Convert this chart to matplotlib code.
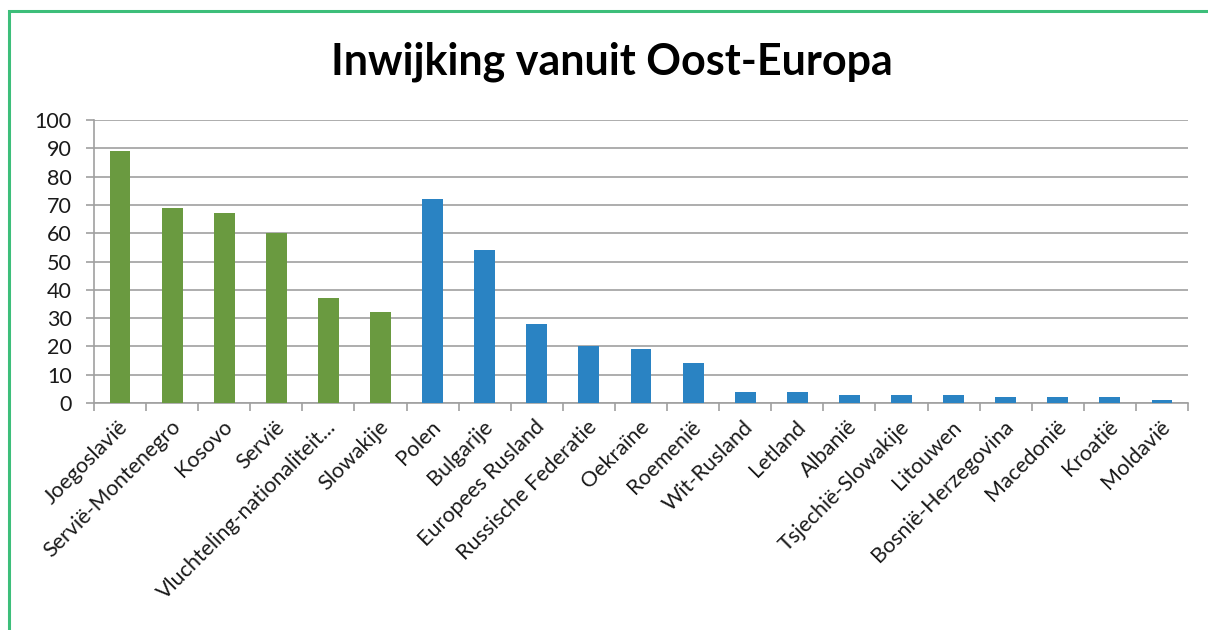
import matplotlib
matplotlib.use("Agg")
import matplotlib.pyplot as plt
import matplotlib.transforms as mtransforms
from matplotlib.patches import Rectangle
import numpy as np

categories = ["Joegoslavië", "Servië-Montenegro", "Kosovo", "Servië",
              "Vluchteling-nationaliteit...", "Slowakije", "Polen", "Bulgarije",
              "Europees Rusland", "Russische Federatie", "Oekraïne", "Roemenië",
              "Wit-Rusland", "Letland", "Albanië", "Tsjechië-Slowakije", "Litouwen",
              "Bosnië-Herzegovina", "Macedonië", "Kroatië", "Moldavië"]
values = [89, 69, 67, 60, 37, 32, 72, 54, 28, 20, 19, 14, 4, 4, 3, 3, 3, 2, 2, 2, 1]
groups = ["g"] * 6 + ["b"] * 15
yticks = [0, 10, 20, 30, 40, 50, 60, 70, 80, 90, 100]
title = "Inwijking vanuit Oost-Europa"

GREEN = "#6A9A40"
BLUE = "#2A83C3"
GRID = "#A0A0A0"
FONT = ["Lato", "DejaVu Sans"]

fig = plt.figure(figsize=(12.08, 6.3), dpi=100)
fig.patch.set_facecolor("white")
ax = fig.add_axes([94/1208, (630-403)/630, (1188-94)/1208, (403-120)/630])

x = np.arange(len(categories))
colors = [GREEN if g == "g" else BLUE for g in groups]
ax.bar(x, values, width=0.4, color=colors, zorder=3)

ax.set_xlim(-0.5, len(categories) - 0.5)
ax.set_ylim(0, 100)
ax.set_yticks(yticks)
ax.set_yticklabels([str(v) for v in yticks], fontsize=15.5, family=FONT, color="#1a1a1a")
ax.yaxis.grid(True, color=GRID, linewidth=1.2, zorder=0)
ax.set_axisbelow(True)

ax.set_xticks(x)
ax.set_xticklabels(categories, rotation=45, ha="right", va="center",
                   rotation_mode="anchor", fontsize=15.5, family=FONT, color="#1a1a1a")
ax.tick_params(axis="x", length=0, pad=15)
offset = mtransforms.ScaledTranslation(5/100, 0, fig.dpi_scale_trans)
for lbl in ax.get_xticklabels():
    lbl.set_transform(lbl.get_transform() + offset)
ax.set_xticks(np.arange(-0.5, len(categories)), minor=True)
ax.tick_params(axis="x", which="minor", length=6, color=GRID, width=1.2)
ax.tick_params(axis="y", length=6, color=GRID, width=1.2, pad=10)

for s in ["top", "right"]:
    ax.spines[s].set_visible(False)
for s in ["left", "bottom"]:
    ax.spines[s].set_color(GRID)
    ax.spines[s].set_linewidth(1.2)

fig.text(612/1208, 1 - 62/630, title, ha="center", va="center",
         fontsize=31, fontweight="bold", family=FONT, color="black")

border = Rectangle((9/1208, -0.05), 1.1, 1 - 11/630 + 0.05, transform=fig.transFigure,
                   fill=False, edgecolor="#3DBE7A", linewidth=2.2, zorder=10)
fig.add_artist(border)

fig.savefig("out.png", dpi=100, facecolor="white")
